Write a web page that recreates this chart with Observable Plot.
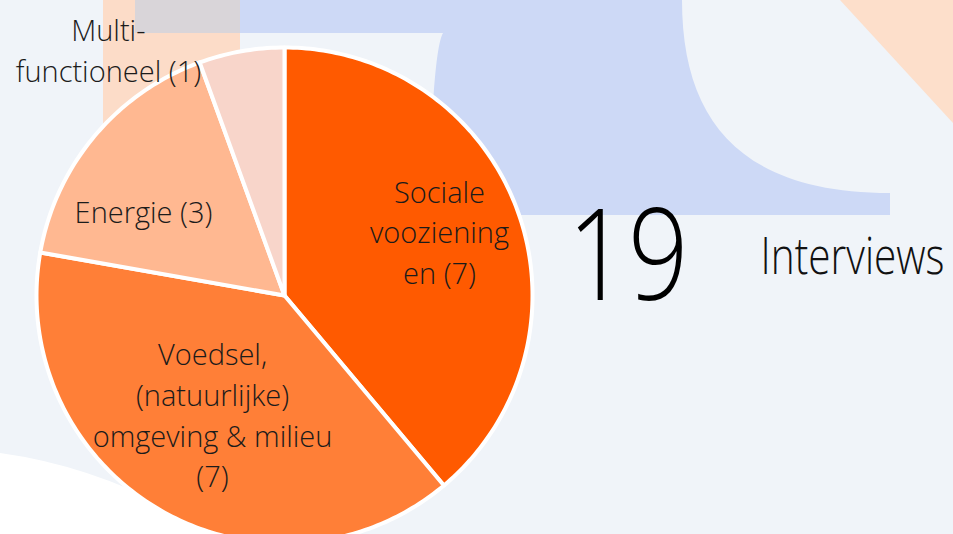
<!DOCTYPE html>
<html>
<head>
<meta charset="utf-8">
<script src="https://cdn.jsdelivr.net/npm/d3@7"></script>
<script src="https://cdn.jsdelivr.net/npm/@observablehq/plot@0.6"></script>
<style>
  html, body { margin: 0; padding: 0; }
  body { width: 953px; height: 534px; overflow: hidden; background: #f0f4f9; position: relative; }
  #bg { position: absolute; left: 0; top: 0; }
  #chart { position: absolute; left: 0; top: 0; }
  #chart svg { background: transparent !important; overflow: hidden; }
</style>
</head>
<body>
<svg id="bg" width="953" height="534">
  <rect x="103" y="0" width="137" height="220" fill="#fcdcc8"/>
  <rect x="135" y="0" width="105" height="33" fill="#d9d5d9"/>
  <path d="M240,0 H682 C682,120 740,193 890,193 V215 H432 L432,120 Q436,45 443,33 H240 Z" fill="#cdd9f6"/>
  <path d="M840,0 H953 V123 Z" fill="#fddfcb"/>
  <path d="M0,453 Q110,468 215,534 H0 Z" fill="#ffffff"/>
</svg>
<div id="chart"></div>
<script>
// ---- data ----
const categories = ["Sociale voozieningen", "Voedsel, (natuurlijke) omgeving & milieu", "Energie", "Multi-functioneel"];
const counts = [7, 7, 3, 1];
const labels = ["Sociale\nvooziening\nen (7)", "Voedsel,\n(natuurlijke)\nomgeving & milieu\n(7)", "Energie (3)", "Multi-\nfunctioneel (1)"];
const sliceColors = ["#ff5a00", "#ff7f37", "#ffb891", "#f8d5ca"];
const totalInterviews = "19";
const totalLabel = "Interviews";

// ---- layout (label placement as angle from top, radius fraction) ----
const labelPlacement = [[67.2, 0.678], [211.4, 0.557], [301.1, 0.664], [324.5, 1.223]];

const total = d3.sum(counts);
let acc = 0;
const slicePoints = [];
const labelRows = [];
categories.forEach((cat, i) => {
  const a0 = acc / total * 360;
  acc += counts[i];
  const a1 = acc / total * 360;
  slicePoints.push({cat, x: 0, y: 0});
  const n = Math.max(2, Math.ceil(a1 - a0));
  for (let k = 0; k <= n; k++) {
    const a = (a0 + (a1 - a0) * k / n) * Math.PI / 180;
    slicePoints.push({cat, x: Math.sin(a), y: Math.cos(a)});
  }
  slicePoints.push({cat, x: 0, y: 0});
  const [la, lr] = labelPlacement[i];
  const r = la * Math.PI / 180;
  labelRows.push({cat, text: labels[i], x: lr * Math.sin(r), y: lr * Math.cos(r)});
});

const R = 248, cx = 284, cy = 295;
const W = 953, H = 534;
const font = "'Open Sans', 'Noto Sans', Lato, sans-serif";

const chart = Plot.plot({
  width: W,
  height: H,
  marginLeft: cx - R,
  marginRight: W - (cx + R),
  marginTop: cy - R,
  marginBottom: H - (cy + R),
  x: {domain: [-1, 1], axis: null},
  y: {domain: [-1, 1], axis: null},
  color: {domain: categories, range: sliceColors},
  style: {background: "transparent", fontFamily: font},
  marks: [
    Plot.line(slicePoints, {x: "x", y: "y", z: "cat", fill: "cat", stroke: "white", strokeWidth: 4, strokeLinejoin: "round", curve: "linear"}),
    Plot.text(labelRows, {x: "x", y: "y", text: "text", fontSize: 29, lineHeight: 1.4, fill: "#1b1b1b", fontWeight: 300, textAnchor: "middle"}),
    Plot.text([totalInterviews], {x: [(627.5 - cx) / R], y: [(cy - 258.5) / R], text: d => d, fontSize: 128, fontWeight: 300, fill: "#000", textAnchor: "middle"}),
    Plot.text([totalLabel], {x: [(852 - cx) / R], y: [(cy - 257) / R], text: d => d, fontSize: 52, fontWeight: 300, fill: "#111", textAnchor: "middle"})
  ]
});
d3.select(chart).selectAll("text").each(function() {
  const t = this.textContent;
  if (t === totalInterviews) d3.select(this).attr("textLength", 121).attr("lengthAdjust", "spacingAndGlyphs");
  if (t === totalLabel) d3.select(this).attr("textLength", 184).attr("lengthAdjust", "spacingAndGlyphs");
});
document.getElementById("chart").appendChild(chart);
</script>
</body>
</html>
